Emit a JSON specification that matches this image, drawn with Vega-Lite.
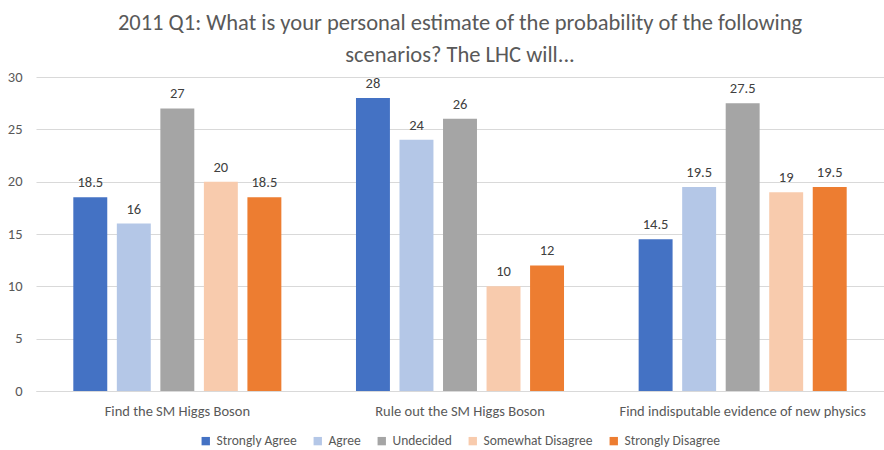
{
  "$schema": "https://vega.github.io/schema/vega-lite/v6.json",
  "autosize": {"type": "none"},
  "width": 848,
  "height": 314,
  "padding": {"left": 36, "top": 77, "right": 0, "bottom": 59},
  "background": "white",
  "title": {
    "text": ["2011 Q1: What is your personal estimate of the probability of the following", "scenarios? The LHC will..."],
    "font": "Carlito, Lato",
    "fontSize": 22.5,
    "fontWeight": "normal",
    "color": "#595959",
    "lineHeight": 32,
    "anchor": "middle",
    "offset": 3
  },
  "data": {
    "values": [
      {"scenario": "Find the SM Higgs Boson", "response": "Strongly Agree", "value": 18.5},
      {"scenario": "Find the SM Higgs Boson", "response": "Agree", "value": 16},
      {"scenario": "Find the SM Higgs Boson", "response": "Undecided", "value": 27},
      {"scenario": "Find the SM Higgs Boson", "response": "Somewhat Disagree", "value": 20},
      {"scenario": "Find the SM Higgs Boson", "response": "Strongly Disagree", "value": 18.5},
      {"scenario": "Rule out the SM Higgs Boson", "response": "Strongly Agree", "value": 28},
      {"scenario": "Rule out the SM Higgs Boson", "response": "Agree", "value": 24},
      {"scenario": "Rule out the SM Higgs Boson", "response": "Undecided", "value": 26},
      {"scenario": "Rule out the SM Higgs Boson", "response": "Somewhat Disagree", "value": 10},
      {"scenario": "Rule out the SM Higgs Boson", "response": "Strongly Disagree", "value": 12},
      {"scenario": "Find indisputable evidence of new physics", "response": "Strongly Agree", "value": 14.5},
      {"scenario": "Find indisputable evidence of new physics", "response": "Agree", "value": 19.5},
      {"scenario": "Find indisputable evidence of new physics", "response": "Undecided", "value": 27.5},
      {"scenario": "Find indisputable evidence of new physics", "response": "Somewhat Disagree", "value": 19},
      {"scenario": "Find indisputable evidence of new physics", "response": "Strongly Disagree", "value": 19.5}
    ]
  },
  "encoding": {
    "x": {
      "field": "scenario",
      "type": "nominal",
      "sort": ["Find the SM Higgs Boson", "Rule out the SM Higgs Boson", "Find indisputable evidence of new physics"],
      "scale": {"paddingInner": 0.264, "paddingOuter": 0.132},
      "axis": {
        "title": null,
        "labelAngle": 0,
        "labelLimit": 0,
        "ticks": false,
        "grid": false,
        "domain": true,
        "domainColor": "#d9d9d9",
        "labelPadding": 13,
        "labelFontSize": 14.5,
        "labelColor": "#595959",
        "labelFont": "Carlito, Lato"
      }
    },
    "xOffset": {
      "field": "response",
      "type": "nominal",
      "sort": ["Strongly Agree", "Agree", "Undecided", "Somewhat Disagree", "Strongly Disagree"],
      "scale": {"paddingInner": 0.22, "paddingOuter": 0}
    },
    "y": {
      "field": "value",
      "type": "quantitative",
      "scale": {"domain": [0, 30], "nice": false},
      "axis": {
        "title": null,
        "values": [0, 5, 10, 15, 20, 25, 30],
        "ticks": false,
        "domain": false,
        "gridColor": "#d9d9d9",
        "labelPadding": 14,
        "labelFontSize": 14.5,
        "labelColor": "#595959",
        "labelFont": "Carlito, Lato"
      }
    }
  },
  "layer": [
    {
      "mark": {"type": "bar"},
      "encoding": {
        "color": {
          "field": "response",
          "type": "nominal",
          "sort": ["Strongly Agree", "Agree", "Undecided", "Somewhat Disagree", "Strongly Disagree"],
          "scale": {
            "domain": ["Strongly Agree", "Agree", "Undecided", "Somewhat Disagree", "Strongly Disagree"],
            "range": ["#4472c4", "#b4c7e7", "#a5a5a5", "#f8cbad", "#ed7d31"]
          },
          "legend": {
            "title": null,
            "orient": "bottom",
            "direction": "horizontal",
            "symbolType": "square",
            "symbolSize": 70,
            "symbolStrokeWidth": 0,
            "labelFontSize": 13.5,
            "labelColor": "#595959",
            "labelFont": "Carlito, Lato",
            "labelOffset": 4,
            "labelLimit": 0,
            "columnPadding": 14,
            "offset": 16
          }
        }
      }
    },
    {
      "mark": {"type": "text", "dy": -14, "fontSize": 14.5, "color": "#404040", "font": "Carlito, Lato"},
      "encoding": {
        "text": {"field": "value", "type": "quantitative"}
      }
    }
  ],
  "config": {
    "view": {"stroke": null},
    "legend": {"layout": {"bottom": {"anchor": "middle"}}}
  }
}
